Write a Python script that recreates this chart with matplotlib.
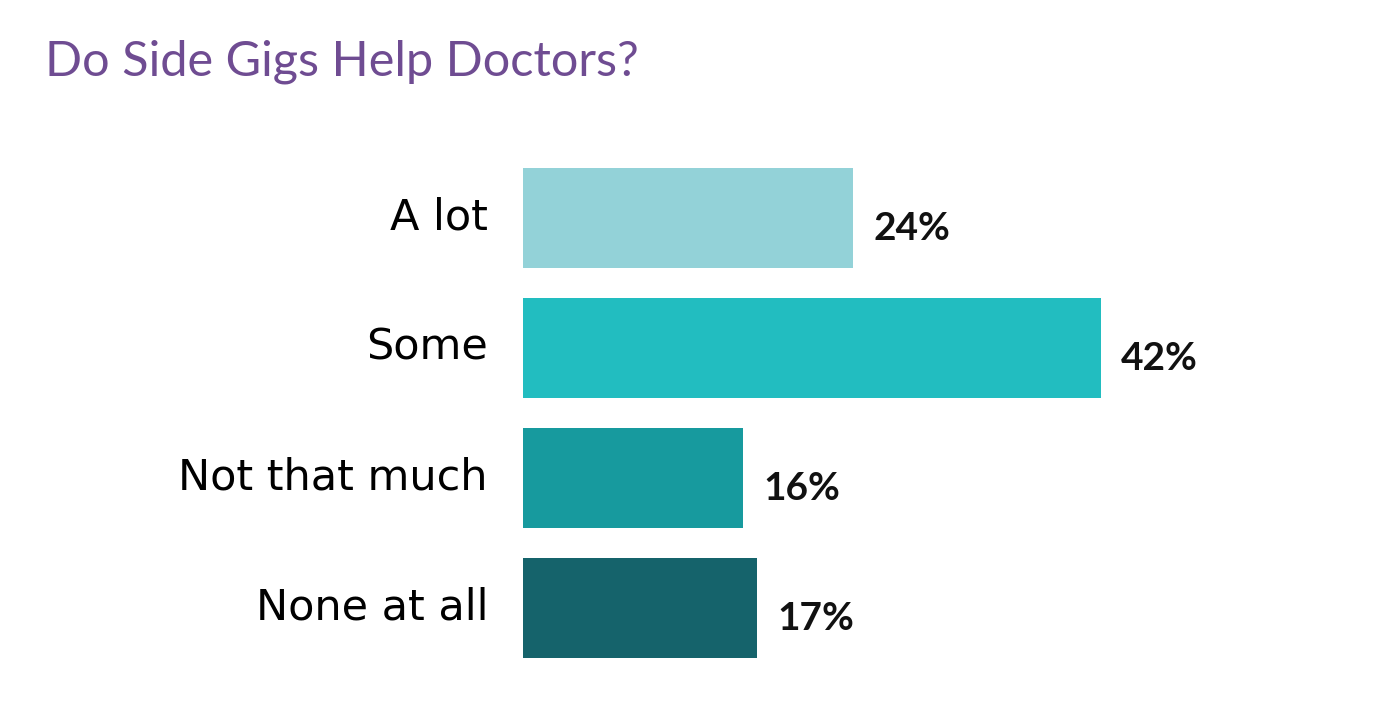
import matplotlib
matplotlib.use("Agg")
import matplotlib.pyplot as plt

categories = ["A lot", "Some", "Not that much", "None at all"]
values = [24, 42, 16, 17]
colors = ["#93D2D8", "#22BDC0", "#179A9E", "#15636B"]

W, H = 1380, 710
fig = plt.figure(figsize=(W / 100, H / 100), dpi=100)

# axes placed in pixel terms: bars start at x=523, rows 130px apart
px_per_pct = (1101 - 523) / 42
ax = fig.add_axes([523 / W, (H - 673) / H, (W - 523) / W, 520 / H])
ax.barh(range(len(values)), values, height=0.77, color=colors)
ax.set_xlim(0, (W - 523) / px_per_pct)
ax.set_ylim(3.5, -0.5)
ax.axis("off")

for i, (c, v) in enumerate(zip(categories, values)):
    ax.text(-35 / px_per_pct, i, c, ha="right", va="center",
            fontsize=31, family=["Liberation Sans Narrow", "DejaVu Sans"], color="black")
    ax.text(v + 20 / px_per_pct, i + 0.08, f"{v}%", ha="left", va="center",
            fontsize=28, fontweight="bold", family=["Lato", "DejaVu Sans"], color="#111111")

fig.text(45 / W, 1 - 62 / H, "Do Side Gigs Help Doctors?", ha="left", va="center",
         fontsize=35, family=["Lato", "DejaVu Sans"], color="#6F4C92")

fig.savefig("out.png", dpi=100, facecolor="white")
